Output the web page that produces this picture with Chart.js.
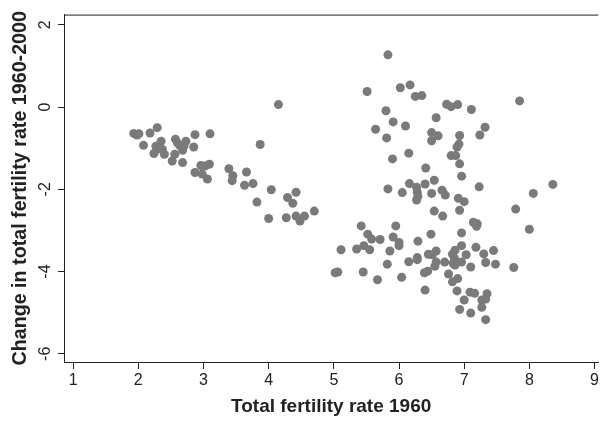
<!DOCTYPE html>
<html>
<head>
<meta charset="utf-8">
<script src="https://cdn.jsdelivr.net/npm/chart.js@4"></script>
<style>
  html, body { margin: 0; padding: 0; background: #fff; overflow: hidden; }
  #wrap { width: 601px; height: 421px; }
</style>
</head>
<body>
<div id="wrap"><canvas id="chart" width="601" height="421"></canvas></div>
<script>
// total fertility rate in 1960 (x) and its change 1960-2000 (y), one entry per country
const tfr1960 = [
  1.93, 1.98, 2.01, 2.18, 2.29, 2.08, 2.35,
  2.27, 2.32, 2.37, 2.29, 2.24, 2.40,
  2.57, 2.60, 2.64, 2.73, 2.70, 2.68,
  2.56, 2.52, 2.68, 2.87, 3.10, 2.85,
  2.96, 3.03, 3.09, 2.87, 2.98, 3.06,
  3.39, 3.45, 3.44, 3.66, 3.63, 3.76, 3.87,
  4.04, 3.82, 4.29, 4.42, 4.37, 4.00, 4.27,
  4.42, 4.48, 4.55, 4.70, 4.15,
  5.83, 5.51, 6.02, 6.17, 6.25, 6.35, 6.73, 6.80, 6.90, 7.11, 7.85,
  5.80, 5.91, 6.10, 5.64, 5.81, 6.57, 6.50, 6.60, 6.50, 6.93, 7.32, 7.24, 6.92, 6.89,
  6.15, 5.90, 6.80, 6.87, 6.93, 6.41, 6.96, 6.54, 6.16, 6.40, 5.83, 6.05,
  6.27, 6.28, 6.29, 6.27, 6.50, 6.66, 6.71, 7.23, 8.36, 8.06, 6.91, 7.00, 6.93, 6.54, 6.67, 7.79, 8.00,
  5.42, 5.95, 7.14, 7.20, 7.19,
  5.52, 5.58, 5.71, 5.91, 6.00, 6.00, 6.49, 6.29, 6.96, 5.46, 5.35, 5.11, 5.55, 5.86, 5.82, 5.45, 5.67, 6.04, 6.15, 6.28, 6.28, 6.45, 6.57, 6.51,
  6.57, 6.55, 6.44, 6.39, 6.70, 6.82, 6.86, 6.85, 6.83, 6.86,
  6.96, 7.03, 6.96, 7.10, 7.18, 7.30, 7.45, 7.33, 7.48, 7.76,
  6.76, 6.82, 6.90, 6.40, 6.89, 7.09, 7.16, 7.35, 7.27, 7.33, 7.00, 7.27, 6.93, 7.10, 7.33, 5.02, 5.06
];
const tfrChange = [
  -0.64, -0.68, -0.65, -0.63, -0.50, -0.93, -0.83,
  -0.95, -0.95, -1.03, -1.03, -1.13, -1.15,
  -0.78, -0.87, -0.94, -0.83, -0.95, -1.05,
  -1.15, -1.31, -1.35, -0.67, -0.65, -0.97,
  -1.42, -1.43, -1.39, -1.59, -1.63, -1.75,
  -1.50, -1.67, -1.79, -1.58, -1.90, -1.86, -0.91,
  -2.01, -2.31, -2.20, -2.07, -2.34, -2.71, -2.69,
  -2.65, -2.77, -2.65, -2.53, 0.06,
  1.27, 0.38, 0.47, 0.54, 0.26, 0.28, 0.07, 0.01, 0.06, -0.06, 0.15,
  -0.09, -0.36, -0.46, -0.54, -0.75, -0.26, -0.62, -0.70, -0.82, -0.69, -0.49, -0.68, -0.90, -0.97,
  -1.12, -1.26, -1.18, -1.18, -1.38, -1.48, -1.68, -1.78, -1.86, -1.87, -1.99, -2.08,
  -1.95, -2.07, -2.17, -2.26, -2.10, -2.02, -2.14, -1.94, -1.88, -2.10, -2.22, -2.30, -2.51, -2.53, -2.65, -2.48, -2.97,
  -2.89, -2.89, -2.80, -2.84, -2.90,
  -3.09, -3.21, -3.22, -3.16, -3.29, -3.37, -3.09, -3.26, -3.06, -3.37, -3.45, -3.47, -3.47, -3.50, -3.82, -4.01, -4.20, -4.14, -3.76, -3.66, -3.71, -3.58, -3.50, -3.59,
  -3.77, -3.87, -3.99, -4.03, -3.77, -3.58, -3.48, -3.68, -3.80, -3.84,
  -3.37, -3.59, -3.77, -3.89, -3.41, -3.57, -3.49, -3.78, -3.82, -3.90,
  -4.06, -4.25, -4.17, -4.45, -4.47, -4.50, -4.53, -4.54, -4.69, -4.67, -4.69, -4.87, -4.92, -5.01, -5.17, -4.03, -4.01
];
const xTicks = [1, 2, 3, 4, 5, 6, 7, 8, 9];
const yTicks = [-6, -4, -2, 0, 2];

const FONT = '"Liberation Sans", Arial, Helvetica, sans-serif';
const INK = '#222';

// the frame has a top line too, the axes only give left and bottom
const topLine = {
  id: 'topLine',
  afterDraw(chart) {
    const { ctx, chartArea } = chart;
    ctx.save();
    ctx.strokeStyle = INK;
    ctx.lineWidth = 1;
    ctx.beginPath();
    ctx.moveTo(chartArea.left, chartArea.top + 0.5);
    ctx.lineTo(chartArea.right, chartArea.top + 0.5);
    ctx.stroke();
    ctx.restore();
  }
};

new Chart(document.getElementById('chart'), {
  type: 'scatter',
  data: {
    datasets: [{
      data: tfr1960.map((x, i) => ({ x: x, y: tfrChange[i] })),
      backgroundColor: '#7a7a7a',
      borderWidth: 0,
      pointRadius: 4.5,
      pointHoverRadius: 4.5
    }]
  },
  options: {
    responsive: false,
    animation: false,
    events: [],
    layout: { autoPadding: false, padding: { top: 10, left: 0, right: 0, bottom: 0 } },
    plugins: {
      legend: { display: false },
      tooltip: { enabled: false }
    },
    scales: {
      x: {
        type: 'linear',
        min: 0.86,
        max: 9.058,
        afterBuildTicks: s => { s.ticks = xTicks.map(v => ({ value: v })); },
        afterFit: s => { s.height = 59; },
        grid: { drawOnChartArea: false, tickLength: 7, tickColor: INK },
        border: { color: INK },
        ticks: { font: { family: FONT, size: 16 }, color: INK, padding: 2, maxRotation: 0, autoSkip: false },
        title: {
          display: true,
          text: 'Total fertility rate 1960',
          font: { family: FONT, size: 19, weight: 'bold' },
          color: INK,
          padding: { top: 0, bottom: 3 }
        }
      },
      y: {
        type: 'linear',
        min: -6.199,
        max: 2.249,
        afterBuildTicks: s => { s.ticks = yTicks.map(v => ({ value: v })); },
        afterFit: s => { s.width = 64; },
        grid: { drawOnChartArea: false, tickLength: 6, tickColor: INK },
        border: { color: INK },
        ticks: {
          font: { family: FONT, size: 16 }, color: INK, padding: 5,
          minRotation: 90, maxRotation: 90, crossAlign: 'center', autoSkip: false
        },
        title: {
          display: true,
          text: 'Change in total fertility rate 1960-2000',
          font: { family: FONT, size: 19.7, weight: 'bold' },
          color: INK,
          padding: { top: 9, bottom: 0 }
        }
      }
    }
  },
  plugins: [topLine]
});
</script>
</body>
</html>
